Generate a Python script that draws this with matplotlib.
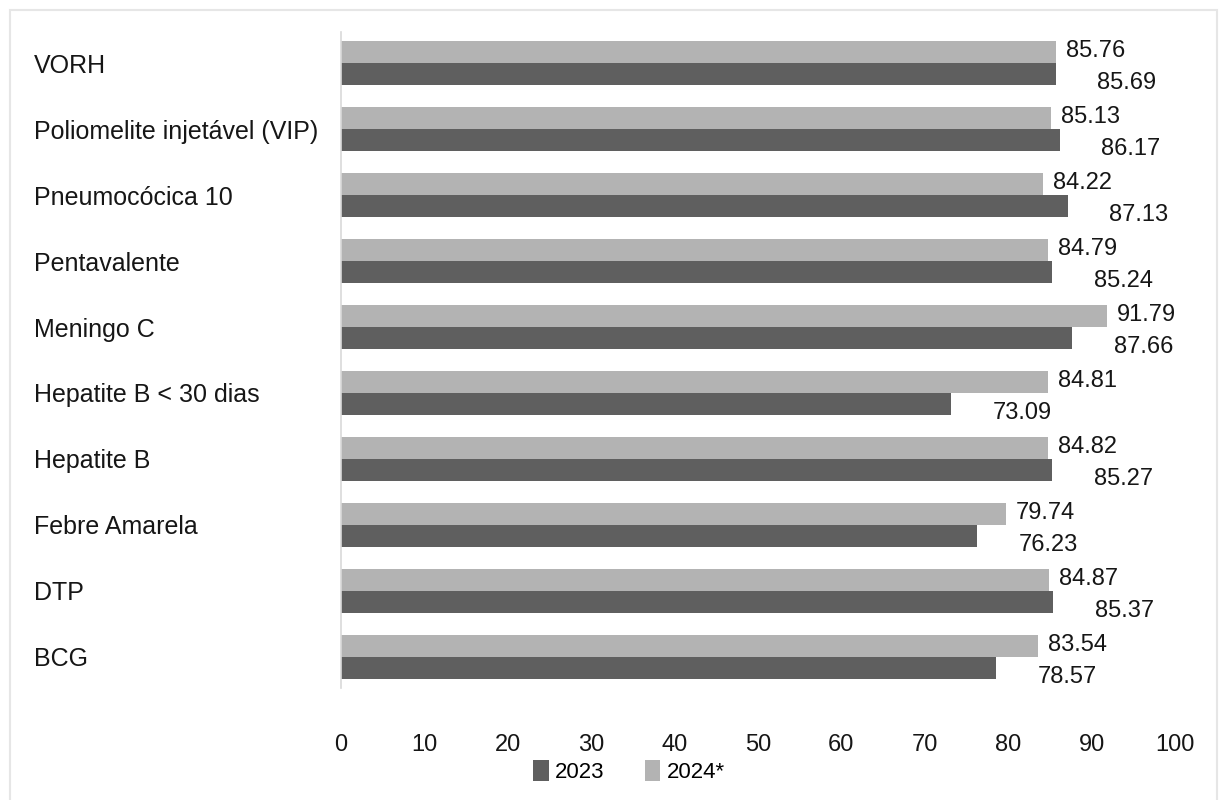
import numpy as np
import matplotlib.pyplot as plt
from matplotlib.patches import Rectangle

# Dados de cobertura vacinal (%), de baixo para cima
vacinas = ["BCG", "DTP", "Febre Amarela", "Hepatite B", "Hepatite B < 30 dias",
           "Meningo C", "Pentavalente", "Pneumocócica 10",
           "Poliomelite injetável (VIP)", "VORH"]
cob_2023 = [78.57, 85.37, 76.23, 85.27, 73.09, 87.66, 85.24, 87.13, 86.17, 85.69]
cob_2024 = [83.54, 84.87, 79.74, 84.82, 84.81, 91.79, 84.79, 84.22, 85.13, 85.76]

COR_2023 = "#5f5f5f"
COR_2024 = "#b3b3b3"
COR_TEXTO = "#161616"

plt.rcParams["font.family"] = ["Liberation Sans", "DejaVu Sans"]

fig = plt.figure(figsize=(12.19, 8.0), dpi=100)
ax = fig.add_axes([0.2797, 0.14, 0.6842, 0.82])

y = np.arange(len(vacinas))
h = 0.33
b23 = ax.barh(y - h / 2, cob_2023, height=h, color=COR_2023, label="2023")
b24 = ax.barh(y + h / 2, cob_2024, height=h, color=COR_2024, label="2024*")

# rótulos de valor
for yi, v in zip(y, cob_2024):
    ax.text(v + 1.2, yi + h / 2 + 0.02, f"{v:.2f}", ha="left", va="center",
            fontsize=17, color=COR_TEXTO)
for yi, v in zip(y, cob_2023):
    ax.text(v + 5.0, yi - h / 2 - 0.14, f"{v:.2f}", ha="left", va="center",
            fontsize=17, color=COR_TEXTO)

ax.set_xlim(0, 100)
ax.set_ylim(-0.47, 9.47)
ax.set_xticks(np.arange(0, 101, 10))
ax.tick_params(axis="x", length=0, pad=33, labelsize=17, labelcolor=COR_TEXTO)
ax.set_yticks(y)
ax.set_yticklabels(vacinas, ha="left")
ax.tick_params(axis="y", length=0, pad=221, labelsize=18, labelcolor=COR_TEXTO)

for s in ["top", "right", "bottom"]:
    ax.spines[s].set_visible(False)
ax.spines["left"].set_color("#d9d9d9")
ax.spines["left"].set_linewidth(1.2)

ax.legend(handles=[b23, b24], loc="center", bbox_to_anchor=(0.516, 0.036),
          bbox_transform=fig.transFigure, ncol=2, frameon=False,
          fontsize=16, handlelength=0.7, handleheight=1.1, handletextpad=0.3,
          columnspacing=1.8)

# moldura clara ao redor do gráfico
fig.patches.append(Rectangle((0.008, -0.01), 0.99, 0.997, transform=fig.transFigure,
                             fill=False, edgecolor="#e6e6e6", linewidth=1.5))

fig.savefig("out.png", dpi=100)
